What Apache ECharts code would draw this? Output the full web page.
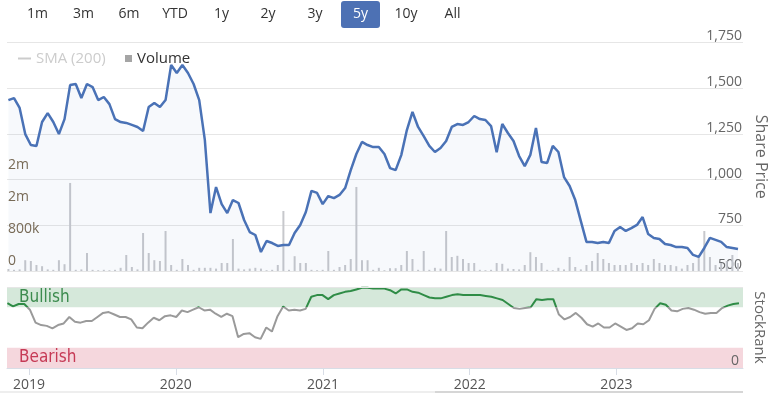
<!DOCTYPE html>
<html><head><meta charset="utf-8">
<script src="https://cdn.jsdelivr.net/npm/echarts@6/dist/echarts.min.js"></script>
<style>html,body{margin:0;padding:0;background:#fff}#c{width:769px;height:394px}</style>
</head><body><div id="c"></div>
<script>
// ---- data (bi-weekly samples) ----
const startDate = [2018, 10, 8];   // 8 Nov 2018
const stepDays = 14;
const price = [1435,1446,1392,1249,1189,1184,1315,1364,1315,1249,
 1331,1517,1523,1446,1523,1506,1435,1452,1413,1331,
 1315,1310,1299,1288,1266,1397,1419,1397,1435,1627,
 1583,1627,1583,1523,1435,1217,817,959,866,817,
 888,872,779,713,697,604,664,653,637,642,
 642,708,752,823,938,927,866,910,899,916,
 954,1052,1140,1206,1189,1178,1178,1140,1063,1052,
 1134,1271,1370,1288,1238,1184,1151,1173,1211,1288,
 1304,1299,1315,1348,1331,1326,1293,1150,1304,1255,
 1211,1129,1074,1135,1282,1096,1091,1184,1151,1014,
 965,888,773,659,659,653,659,653,719,741,
 719,735,752,795,702,681,675,648,642,631,
 631,626,588,577,626,681,670,659,631,626,
 620];
const volumeK = [50,30,40,270,250,150,120,40,30,270,
 170,2200,30,40,450,30,20,30,20,30,
 80,400,100,40,950,450,270,250,1000,150,
 30,300,150,30,80,80,80,60,200,200,
 800,60,40,60,80,60,20,30,150,1500,
 30,370,200,200,30,20,30,500,30,100,
 150,300,2100,270,270,30,80,20,70,70,
 150,500,300,30,500,30,80,60,1000,350,
 380,300,200,200,30,20,30,200,180,60,
 50,40,150,470,350,200,30,20,80,40,
 350,100,40,150,250,450,300,200,150,150,
 150,200,150,200,150,300,200,150,150,120,
 60,150,200,350,1000,350,150,200,250,400,
 200];
const stockRank = [80,76,79,79,72,56,53,52,49,53,
 55,63,57,56,58,58,63,68,69,66,
 63,63,60,50,49,56,62,59,64,65,
 63,71,69,72,75,71,72,67,63,67,
 64,38,42,43,38,36,50,45,64,76,
 71,72,71,73,88,90,90,85,90,92,
 94,95,97,99,99,98,98,98,96,92,
 97,97,94,93,90,87,86,86,88,90,
 91,90,90,90,90,89,88,86,84,79,
 74,73,74,75,85,84,85,85,66,60,
 63,68,62,54,51,55,50,50,55,51,
 47,49,55,54,59,73,80,78,71,70,
 73,74,72,69,67,68,68,74,77,79,
 80];
const rangeButtons = ['1m','3m','6m','YTD','1y','2y','3y','5y','10y','All'];
const activeButton = '5y';
const priceTicks = {min: 500, max: 1750, step: 250};
const rankBands = {bullish: [75, 100], bearish: [0, 25]};

// ---- layout ----
const dates = price.map((_, i) => new Date(startDate[0], startDate[1], startDate[2] + i * stepDays).getTime());
const xMin = new Date(2018, 10, 7).getTime();
const xMax = new Date(2023, 10, 12).getTime();
const FONT = '"Open Sans", "Noto Sans", sans-serif';
const NARROW = '"Liberation Sans Narrow", "DejaVu Sans Condensed", sans-serif';
const btnX = [37.5, 83.5, 129, 175, 221.5, 268, 315, 360.5, 406, 452.5];
const rankGrid = {top: 287, height: 81};
const rankMax = 100;

const graphic = [];
rangeButtons.forEach((b, i) => {
  if (b === activeButton) {
    graphic.push({type: 'rect', left: btnX[i] - 19.5, top: 1, shape: {width: 39, height: 27, r: 3}, style: {fill: '#4d71b4'}});
  }
  graphic.push({type: 'text', x: btnX[i], y: 14.5, style: {text: b, align: 'center', verticalAlign: 'middle',
    fill: b === activeButton ? '#fff' : '#333', font: '14px ' + FONT}});
});
graphic.push({type: 'rect', left: 0, top: 391, shape: {width: 743, height: 2}, style: {fill: '#eeeeee'}});
graphic.push({type: 'rect', left: 435, top: 391, shape: {width: 308, height: 2}, style: {fill: '#d6d6d6'}});

// colour the StockRank line green inside the bullish band, grey elsewhere
const split = (rankMax - rankBands.bullish[0]) / rankMax;
const rankColor = {type: 'linear', x: 0, y: rankGrid.top, x2: 0, y2: rankGrid.top + rankGrid.height, global: true,
  colorStops: [{offset: 0, color: '#2f8c46'}, {offset: split, color: '#2f8c46'},
               {offset: split, color: '#9a9a9a'}, {offset: 1, color: '#9a9a9a'}]};

const chart = echarts.init(document.getElementById('c'), null, {renderer: 'canvas'});
chart.setOption({
  animation: false,
  textStyle: {fontFamily: FONT},
  graphic: graphic,
  grid: [
    {left: 7, right: 26, top: 42.5, height: 228.5, containLabel: false, outerBoundsMode: 'none'},
    {left: 7, right: 26, top: rankGrid.top, height: rankGrid.height, containLabel: false, outerBoundsMode: 'none'}
  ],
  legend: [
    {left: 13, top: 46, data: [{name: 'SMA (200)'}], icon: 'rect', itemWidth: 13, itemHeight: 2,
     selected: {'SMA (200)': false}, inactiveColor: '#cccccc', textStyle: {fontSize: 15, color: '#333', fontFamily: FONT}},
    {left: 120, top: 46, data: [{name: 'Volume', itemStyle: {color: '#a5a5a5'}}], icon: 'rect', itemWidth: 7, itemHeight: 7,
     textStyle: {fontSize: 15, color: '#333', fontFamily: FONT}}
  ],
  xAxis: [
    {type: 'time', gridIndex: 0, min: xMin, max: xMax, show: false},
    {type: 'time', gridIndex: 1, min: xMin, max: xMax, minInterval: 365 * 864e5, maxInterval: 366 * 864e5, z: 5,
     axisLine: {lineStyle: {color: '#d8dde6'}},
     axisTick: {length: 7, lineStyle: {color: '#d8dde6'}},
     splitLine: {show: false},
     axisLabel: {formatter: '{yyyy}', color: '#555', fontSize: 14, margin: 10, showMinLabel: false, showMaxLabel: false}}
  ],
  yAxis: [
    {type: 'value', gridIndex: 0, position: 'right', min: priceTicks.min, max: priceTicks.max, interval: priceTicks.step,
     axisLine: {show: false}, axisTick: {show: false},
     axisLabel: {inside: true, margin: 1, color: '#666', fontSize: 14, verticalAlign: 'bottom', lineHeight: 12,
       formatter: v => v.toLocaleString('en-US')},
     splitLine: {lineStyle: {color: '#e6e6e6'}},
     name: 'Share Price', nameLocation: 'middle', nameRotate: -90, nameGap: 2,
     nameTextStyle: {color: '#666', fontSize: 16}},
    {type: 'value', gridIndex: 0, position: 'left', min: 0, max: 5710, interval: 800,
     axisLine: {show: false}, axisTick: {show: false}, splitLine: {show: false},
     axisLabel: {inside: true, margin: 1, color: '#7a6a52', fontSize: 14, verticalAlign: 'bottom', padding: [0, 0, 3, 0],
       formatter: v => v === 0 ? '0' : v > 2400 ? '' : v >= 1000 ? Math.round(v / 1000) + 'm' : v + 'k'}},
    {type: 'value', gridIndex: 1, position: 'right', min: 0, max: rankMax, interval: rankMax, z: 5,
     axisLine: {show: false}, axisTick: {show: false},
     splitLine: {lineStyle: {color: '#e6e6e6'}},
     axisLabel: {inside: true, margin: 4, color: '#666', fontSize: 14, verticalAlign: 'bottom', lineHeight: 14,
       showMinLabel: true, showMaxLabel: true, hideOverlap: false,
       formatter: v => v === 0 ? '0' : ''},
     name: 'StockRank', nameLocation: 'middle', nameRotate: -90, nameGap: 2,
     nameTextStyle: {color: '#666', fontSize: 15}}
  ],
  series: [
    {type: 'bar', name: 'Volume', xAxisIndex: 0, yAxisIndex: 1, barWidth: 2, z: 1, silent: true,
     itemStyle: {color: '#c7c8cc'}, data: dates.map((t, i) => [t, volumeK[i]])},
    {type: 'line', name: 'Price', xAxisIndex: 0, yAxisIndex: 0, showSymbol: false, z: 2, silent: true,
     lineStyle: {color: '#4a72b6', width: 2.5}, itemStyle: {color: '#4a72b6'},
     areaStyle: {color: 'rgba(74,114,182,0.06)', origin: 'start'},
     data: dates.map((t, i) => [t, price[i]])},
    {type: 'line', name: 'SMA (200)', xAxisIndex: 0, yAxisIndex: 0, data: [], itemStyle: {color: '#bbbbbb'}},
    {type: 'line', name: 'StockRank', xAxisIndex: 1, yAxisIndex: 2, showSymbol: false, silent: true, z: 3,
     lineStyle: {width: 2, color: rankColor}, itemStyle: {color: '#9a9a9a'},
     data: dates.map((t, i) => [t, stockRank[i]]),
     markArea: {silent: true, z: 1, data: [
       [{yAxis: rankBands.bullish[0], name: 'Bullish', itemStyle: {color: '#d5e8da'},
         label: {position: 'insideLeft', distance: 12, color: '#3c8b4e', fontSize: 17, fontFamily: NARROW}},
        {yAxis: rankBands.bullish[1]}],
       [{yAxis: rankBands.bearish[0], name: 'Bearish', itemStyle: {color: '#f5d7dd'},
         label: {position: 'insideLeft', distance: 12, color: '#c63a55', fontSize: 17, fontFamily: NARROW}},
        {yAxis: rankBands.bearish[1]}]
     ]}}
  ]
});
</script></body></html>
